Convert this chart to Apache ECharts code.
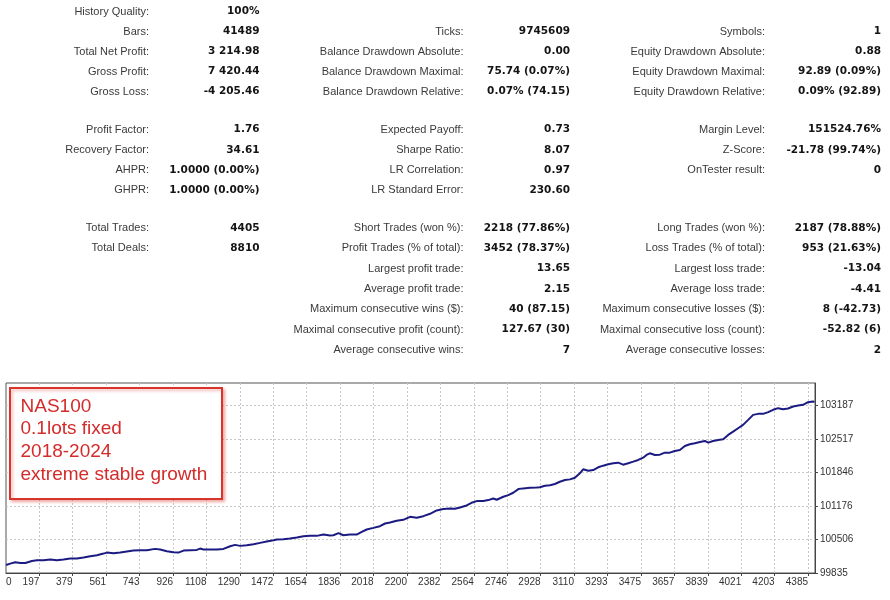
<!DOCTYPE html>
<html><head><meta charset="utf-8">
<script src="https://cdn.jsdelivr.net/npm/echarts@6/dist/echarts.min.js"></script>
<style>html,body{margin:0;padding:0;background:#fff}#c{width:890px;height:600px}</style>
</head><body><div id="c"></div>
<script>
// ---- balance curve (trade number, balance) ----
const tradeNo = [16,39,66,94,121,157,184,220,257,293,329,366,402,438,475,511,547,565,602,638,674,710,747,783,828,856,892,928,955,983,1019,1055,1073,1091,1128,1164,1200,1237,1264,1291,1327,1364,1400,1436,1473,1491,1527,1563,1600,1636,1672,1709,1745,1781,1799,1827,1854,1890,1926,1954,1981,2017,2053,2081,2108,2144,2180,2217,2253,2289,2326,2362,2398,2435,2462,2489,2525,2552,2580,2616,2643,2670,2689,2725,2752,2779,2807,2834,2870,2906,2924,2952,2979,3006,3033,3061,3088,3115,3142,3160,3188,3215,3242,3269,3297,3324,3351,3378,3405,3433,3460,3487,3505,3523,3551,3578,3605,3632,3659,3687,3714,3741,3768,3796,3823,3841,3868,3895,3923,3950,3977,4004,4031,4059,4086,4113,4140,4168,4195,4222,4249,4276,4304,4331,4358,4385,4412,4420];
const balance = [99995,100023,100049,100036,100036,100076,100089,100089,100103,100089,100103,100123,100123,100143,100170,100190,100223,100243,100230,100243,100263,100283,100290,100290,100317,100303,100270,100250,100243,100283,100290,100297,100323,100303,100303,100303,100317,100370,100397,100377,100390,100410,100437,100464,100490,100504,100510,100524,100544,100570,100577,100577,100604,100584,100590,100631,100590,100604,100604,100657,100704,100737,100771,100824,100844,100878,100898,100958,100938,100971,101018,101085,101112,101125,101118,101145,101185,101238,101272,101272,101292,101325,101299,101359,101392,101439,101512,101526,101539,101546,101550,101580,101590,101613,101659,101693,101706,101739,101826,101907,101880,101893,101947,101980,102007,102027,102040,102000,102027,102060,102094,102140,102194,102227,102194,102200,102240,102240,102274,102294,102374,102408,102428,102454,102474,102441,102474,102494,102508,102595,102661,102728,102795,102895,102995,103015,103015,103049,103096,103129,103109,103122,103162,103182,103196,103249,103262,103255];

// ---- axes ----
const xTickValues = [197,379,561,743,926,1108,1290,1472,1654,1836,2018,2200,2382,2564,2746,2928,3110,3293,3475,3657,3839,4021,4203,4385];
const xFirstLabel = '0';
const yTickValues = [99835,100506,101176,101846,102517,103187];

// ---- annotation ----
const noteLines = ['NAS100','0.1lots fixed','2018-2024','extreme stable growth'];

// ---- statistics table (three column pairs, 16 rows; null = empty) ----
const statLabelsA = ['History Quality:','Bars:','Total Net Profit:','Gross Profit:','Gross Loss:','Profit Factor:','Recovery Factor:','AHPR:','GHPR:','Total Trades:','Total Deals:',null,null,null,null,null];
const statValuesA = ['100%','41489','3 214.98','7 420.44','-4 205.46','1.76','34.61','1.0000 (0.00%)','1.0000 (0.00%)','4405','8810',null,null,null,null,null];
const statLabelsB = [null,'Ticks:','Balance Drawdown Absolute:','Balance Drawdown Maximal:','Balance Drawdown Relative:','Expected Payoff:','Sharpe Ratio:','LR Correlation:','LR Standard Error:','Short Trades (won %):','Profit Trades (% of total):','Largest profit trade:','Average profit trade:','Maximum consecutive wins ($):','Maximal consecutive profit (count):','Average consecutive wins:'];
const statValuesB = [null,'9745609','0.00','75.74 (0.07%)','0.07% (74.15)','0.73','8.07','0.97','230.60','2218 (77.86%)','3452 (78.37%)','13.65','2.15','40 (87.15)','127.67 (30)','7'];
const statLabelsC = [null,'Symbols:','Equity Drawdown Absolute:','Equity Drawdown Maximal:','Equity Drawdown Relative:','Margin Level:','Z-Score:','OnTester result:',null,'Long Trades (won %):','Loss Trades (% of total):','Largest loss trade:','Average loss trade:','Maximum consecutive losses ($):','Maximal consecutive loss (count):','Average consecutive losses:'];
const statValuesC = [null,'1','0.88','92.89 (0.09%)','0.09% (92.89)','151524.76%','-21.78 (99.74%)','0',null,'2187 (78.88%)','953 (21.63%)','-13.04','-4.41','8 (-42.73)','-52.82 (6)','2'];

// ---- layout ----
const X_MIN = 15.8, X_MAX = 4423, Y_MIN = 99835, Y_MAX = 103632;
const rowY = [11.7,31.7,51.7,71.7,91.7,129.5,150,170,190.2,227.8,248.2,268.6,288.9,309.2,329.6,350];
const colX = {la:149, va:259.5, lb:463.5, vb:570, lc:765, vc:881};
const LABEL_FONT = '11px "Liberation Sans", Arial, sans-serif';
const VALUE_FONT = 'bold 10.5px "DejaVu Sans", Verdana, sans-serif';

const graphics = [];
function addCol(labels, values, lx, vx) {
  labels.forEach((t, i) => {
    if (t) graphics.push({type:'text', x:lx, y:rowY[i], z:50, silent:true,
      style:{text:t, font:LABEL_FONT, fill:'#3a3a3a', align:'right', verticalAlign:'middle'}});
  });
  values.forEach((t, i) => {
    if (t) graphics.push({type:'text', x:vx, y:rowY[i], z:50, silent:true,
      style:{text:t, font:VALUE_FONT, fill:'#141414', align:'right', verticalAlign:'middle'}});
  });
}
addCol(statLabelsA, statValuesA, colX.la, colX.va);
addCol(statLabelsB, statValuesB, colX.lb, colX.vb);
addCol(statLabelsC, statValuesC, colX.lc, colX.vc);

graphics.push({type:'rect', z:100, silent:true,
  shape:{x:10, y:388, width:212, height:111},
  style:{fill:'#fff', stroke:'#d9342b', lineWidth:2, shadowBlur:3, shadowOffsetX:2, shadowOffsetY:2, shadowColor:'rgba(217,52,43,0.35)'}});
const noteY = [406.7, 429.2, 451.8, 474.3];
noteLines.forEach((t, i) => {
  graphics.push({type:'text', z:101, silent:true, x:20.5, y:noteY[i],
    style:{text:t, font:'19px "Liberation Sans", Arial, sans-serif', fill:'#d42b2b', align:'left', verticalAlign:'middle'}});
});

const xLabelValues = [X_MIN].concat(xTickValues);
const xLabelTexts = [xFirstLabel].concat(xTickValues.map(String));
function xLabelFor(v) {
  let best = 0, d = Infinity;
  xLabelValues.forEach((p, i) => { const dd = Math.abs(p - v); if (dd < d) { d = dd; best = i; } });
  return xLabelTexts[best];
}

const chart = echarts.init(document.getElementById('c'), null, {renderer:'canvas'});
chart.setOption({
  animation:false,
  backgroundColor:'#fff',
  grid:{left:6, right:75, top:383, bottom:27, show:true, borderColor:'#555', borderWidth:1, backgroundColor:'#fff', containLabel:false, outerBoundsMode:'none'},
  xAxis:{type:'value', min:X_MIN, max:X_MAX,
    axisLine:{show:true, onZero:false, lineStyle:{color:'#444'}},
    axisTick:{show:true, customValues:xTickValues, length:3, lineStyle:{color:'#444'}},
    axisLabel:{customValues:xLabelValues, formatter:xLabelFor, align:'right', alignMinLabel:'left', alignMaxLabel:'right', margin:4,
      color:'#333', fontSize:10, fontFamily:'"Liberation Sans", Arial, sans-serif'},
    splitLine:{show:true, lineStyle:{color:'#c8c8c8', type:[2,2], width:1}}},
  yAxis:{type:'value', position:'right', min:Y_MIN, max:Y_MAX,
    axisLine:{show:true, onZero:false, lineStyle:{color:'#444'}},
    axisTick:{show:true, customValues:yTickValues, length:3, lineStyle:{color:'#444'}},
    axisLabel:{customValues:yTickValues, margin:5, color:'#333', fontSize:10, fontFamily:'"Liberation Sans", Arial, sans-serif',
      formatter:(v) => String(Math.round(v))},
    splitLine:{show:true, lineStyle:{color:'#c8c8c8', type:[2,2], width:1}}},
  series:[{type:'line', data:tradeNo.map((x, i) => [x, balance[i]]), showSymbol:false, symbol:'none',
    lineStyle:{color:'#1b1b82', width:2}, clip:true, z:5}],
  graphic:{elements:graphics}
});
</script></body></html>
